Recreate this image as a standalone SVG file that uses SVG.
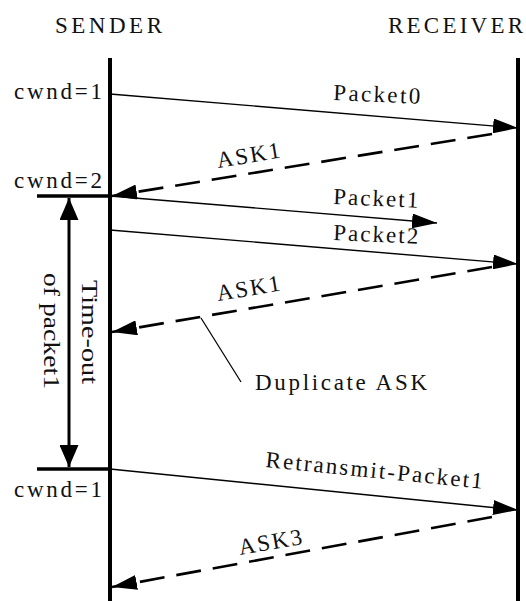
<svg xmlns="http://www.w3.org/2000/svg" width="526" height="601" viewBox="0 0 526 601">
<style>
text{font-family:'Liberation Serif','Times New Roman',serif;font-size:23px;fill:#111}
.life{stroke:#000;stroke-width:4;fill:none}
.tick{stroke:#000;stroke-width:3.5;fill:none}
.msg{stroke:#000;stroke-width:1.4;fill:none}
.ack{stroke:#000;stroke-width:2.6;fill:none;stroke-dasharray:25 12}
.thin{stroke:#000;stroke-width:1.3;fill:none}
.tmo{stroke:#000;stroke-width:3;fill:none}
</style>
<defs>
<marker id="ah" viewBox="0 0 25 15" refX="25" refY="7.5" markerWidth="25" markerHeight="15" markerUnits="userSpaceOnUse" orient="auto">
<path d="M0,0 L25,7.5 L0,15 Z" fill="#000"/>
</marker>
<marker id="ah2" viewBox="0 0 22 19" refX="22" refY="9.5" markerWidth="22" markerHeight="19" markerUnits="userSpaceOnUse" orient="auto-start-reverse">
<path d="M0,0 L22,9.5 L0,19 Z" fill="#000"/>
</marker>
</defs>

<g id="sender">
<text x="55" y="33" font-size="21" textLength="107" lengthAdjust="spacing">SENDER</text>
<line class="life" x1="110" y1="58" x2="110" y2="601"/>
</g>
<g id="receiver">
<text x="388" y="33" font-size="21" textLength="135" lengthAdjust="spacing">RECEIVER</text>
<line class="life" x1="518" y1="58" x2="518" y2="601"/>
</g>

<g id="cwnd1-top"><text x="14" y="99" textLength="88" lengthAdjust="spacing">cwnd=1</text></g>
<g id="cwnd2"><text x="14" y="188" textLength="88" lengthAdjust="spacing">cwnd=2</text></g>
<g id="cwnd1-bottom"><text x="14" y="497" textLength="88" lengthAdjust="spacing">cwnd=1</text></g>

<g id="timeout">
<line class="tick" x1="37" y1="196" x2="110" y2="196"/>
<line class="tick" x1="37" y1="469" x2="110" y2="469"/>
<line class="tmo" x1="69" y1="198" x2="69" y2="467" marker-start="url(#ah2)" marker-end="url(#ah2)"/>
<text x="82" y="280" transform="rotate(90 82 280)" font-size="26" textLength="104" lengthAdjust="spacingAndGlyphs">Time-out</text>
<text x="44" y="273" transform="rotate(90 44 273)" font-size="26" textLength="116" lengthAdjust="spacingAndGlyphs">of packet1</text>
</g>

<g id="connectors">
<line class="msg" x1="110" y1="94" x2="518" y2="128" marker-end="url(#ah)"/>
<line class="ack" x1="492" y1="134" x2="112" y2="196" marker-end="url(#ah)"/>
<line class="msg" x1="110" y1="196" x2="437" y2="223" marker-end="url(#ah)"/>
<line class="msg" x1="110" y1="230" x2="518" y2="264" marker-end="url(#ah)"/>
<line class="ack" x1="492" y1="267" x2="112" y2="332" marker-end="url(#ah)"/>
<polyline class="thin" points="201,318 241,382"/>
<line class="msg" x1="110" y1="469" x2="518" y2="510" marker-end="url(#ah)"/>
<line class="ack" x1="492" y1="517" x2="112" y2="587" marker-end="url(#ah)"/>
</g>

<g id="labels">
<text x="333" y="100" transform="rotate(2.5 333 100)" textLength="87" lengthAdjust="spacing">Packet0</text>
<text x="218" y="168" transform="rotate(-9.5 218 168)" textLength="64" lengthAdjust="spacing">ASK1</text>
<text x="333" y="204" transform="rotate(2.5 333 204)" textLength="85" lengthAdjust="spacing">Packet1</text>
<text x="333" y="240" transform="rotate(2.5 333 240)" textLength="85" lengthAdjust="spacing">Packet2</text>
<text x="218" y="301" transform="rotate(-9.5 218 301)" textLength="64" lengthAdjust="spacing">ASK1</text>
<text x="255" y="390" textLength="172" lengthAdjust="spacing">Duplicate ASK</text>
<text x="265" y="467" transform="rotate(5.7 265 467)" textLength="218" lengthAdjust="spacing">Retransmit-Packet1</text>
<text x="240" y="555" transform="rotate(-10 240 555)" textLength="64" lengthAdjust="spacing">ASK3</text>
</g>
</svg>
